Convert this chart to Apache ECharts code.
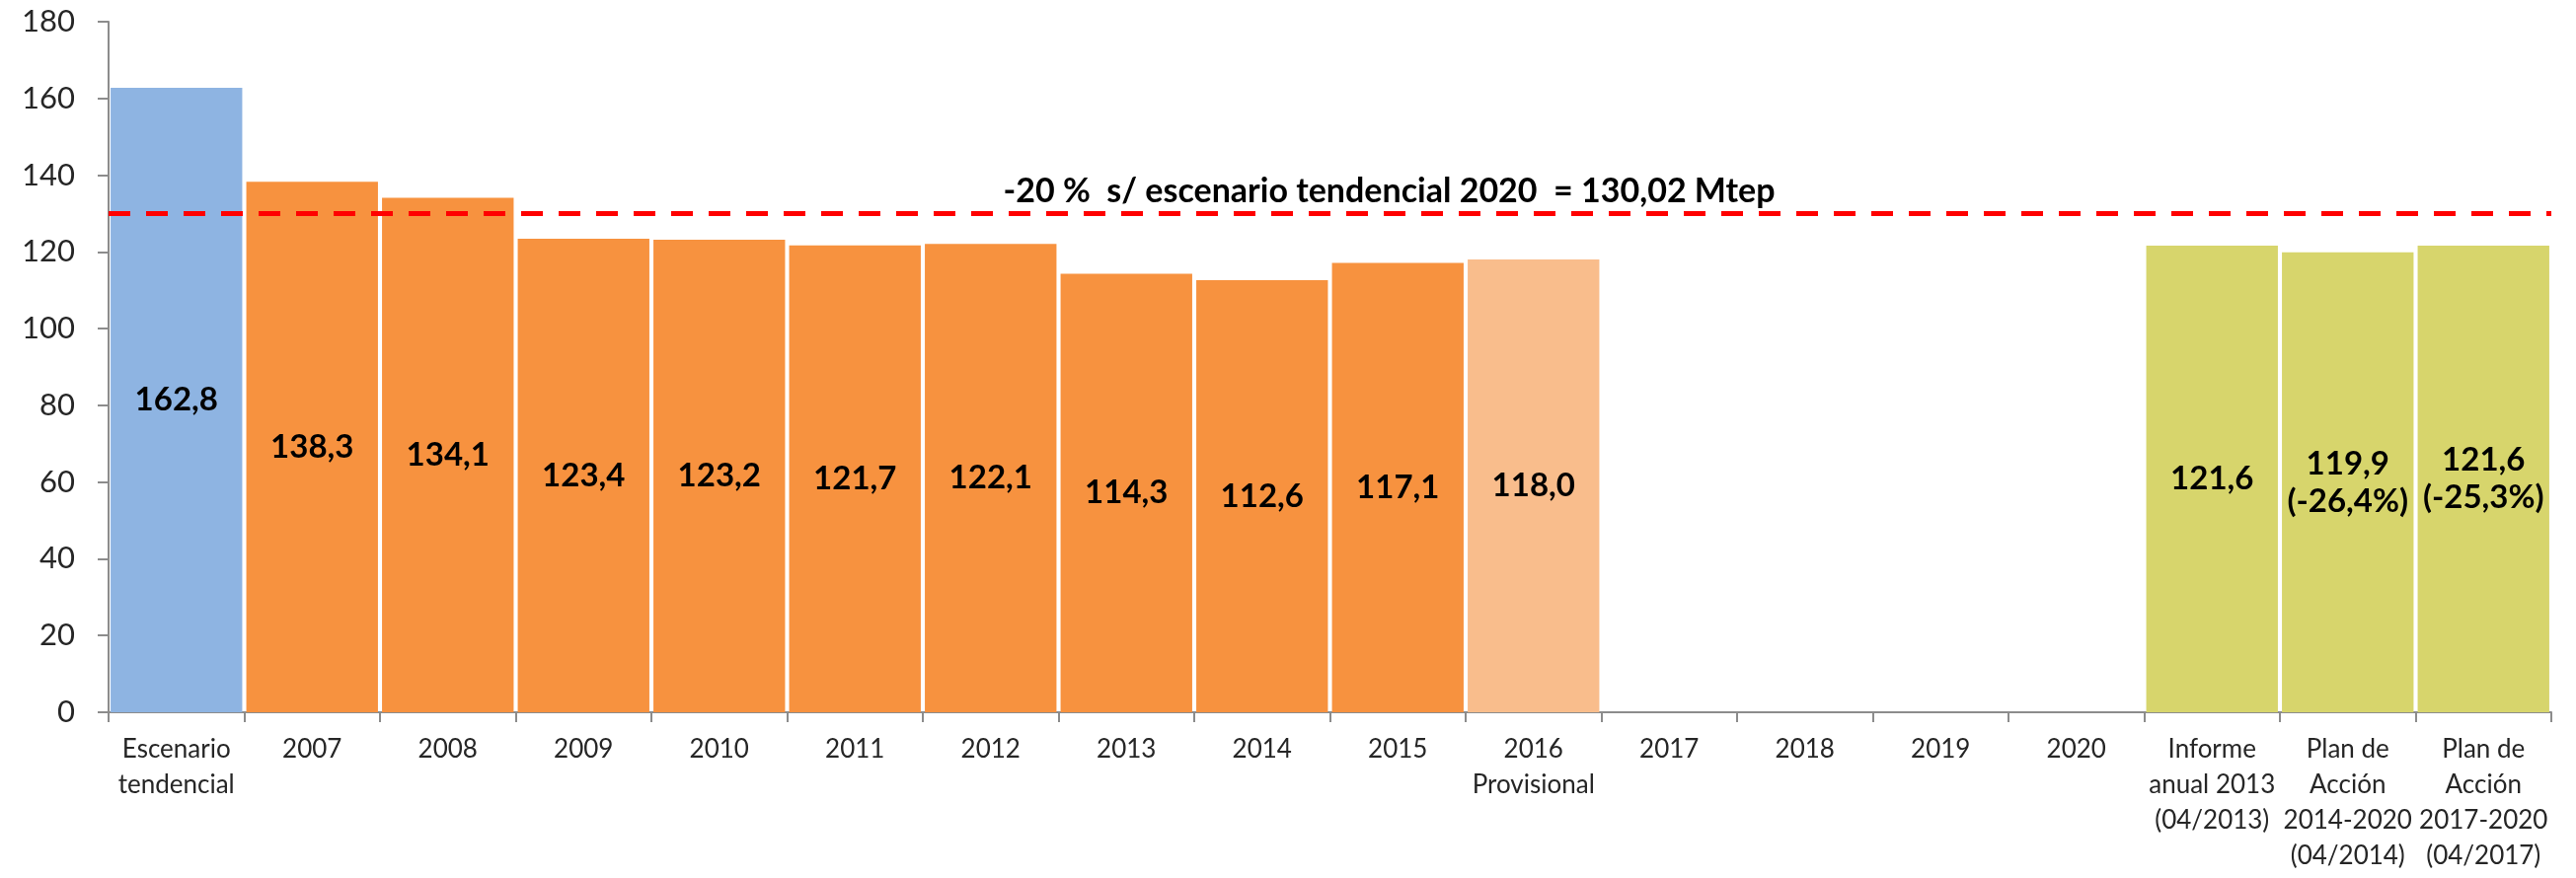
<!DOCTYPE html>
<html>
<head>
<meta charset="utf-8">
<script src="https://cdn.jsdelivr.net/npm/echarts@6/dist/echarts.min.js"></script>
<style>
  html, body { margin: 0; padding: 0; background: #fff; }
  #chart { width: 2610px; height: 890px; }
</style>
</head>
<body>
<div id="chart"></div>
<script>
const categories = [
  'Escenario\ntendencial', '2007', '2008', '2009', '2010', '2011', '2012', '2013',
  '2014', '2015', '2016\nProvisional', '2017', '2018', '2019', '2020',
  'Informe\nanual 2013\n(04/2013)', 'Plan de\nAcción\n2014-2020\n(04/2014)',
  'Plan de\nAcción\n2017-2020\n(04/2017)'
]

// one value per category, null where the series has no bar
const escenario = [162.8, null, null, null, null, null, null, null, null, null, null, null, null, null, null, null, null, null]
const historico = [null, 138.3, 134.1, 123.4, 123.2, 121.7, 122.1, 114.3, 112.6, 117.1, null, null, null, null, null, null, null, null]
const provisional = [null, null, null, null, null, null, null, null, null, null, 118.0, null, null, null, null, null, null, null]
const objetivos = [null, null, null, null, null, null, null, null, null, null, null, null, null, null, null, 121.6, 119.9, 121.6]
const objetivoNotas = ['', '(-26,4%)', '(-25,3%)']

const objetivo2020 = 130.02
const objetivoTexto = '-20 %  s/ escenario tendencial 2020  = 130,02 Mtep'
const yTicks = { min: 0, max: 180, interval: 20 }

const FONT = 'Lato'
const fmt = (v) => v.toFixed(1).replace('.', ',')

const barLabel = {
  show: true,
  position: 'inside',
  color: '#000',
  fontFamily: FONT,
  fontWeight: 'bold',
  fontSize: 33,
  lineHeight: 38,
  formatter: (p) => fmt(p.value),
}

const chart = echarts.init(document.getElementById('chart'))

chart.setOption({
  animation: false,
  grid: { left: 110, right: 25, top: 22, bottom: 168 },
  xAxis: {
    type: 'category',
    data: categories,
    axisLine: { lineStyle: { color: '#8c8c8c', width: 2 } },
    axisTick: { show: true, length: 10, lineStyle: { color: '#8c8c8c', width: 2 } },
    axisLabel: {
      interval: 0,
      margin: 20,
      color: '#262626',
      fontFamily: FONT,
      fontSize: 26,
      lineHeight: 36,
    },
  },
  yAxis: {
    type: 'value',
    min: yTicks.min,
    max: yTicks.max,
    interval: yTicks.interval,
    splitLine: { show: false },
    axisLine: { show: true, lineStyle: { color: '#8c8c8c', width: 2 } },
    axisTick: { show: true, length: 11, lineStyle: { color: '#8c8c8c', width: 2 } },
    axisLabel: {
      margin: 34,
      color: '#262626',
      fontFamily: FONT,
      fontSize: 31,
    },
  },
  series: [
    {
      name: 'Escenario tendencial',
      type: 'bar',
      stack: 'total',
      data: escenario,
      barCategoryGap: '3%',
      itemStyle: { color: '#8EB4E2' },
      label: barLabel,
      markLine: {
        silent: true,
        symbol: 'none',
        lineStyle: { color: '#FF0000', width: 5, type: [22, 16] },
        label: {
          show: true,
          position: 'middle',
          distance: 5,
          color: '#000',
          fontFamily: FONT,
          fontWeight: 'bold',
          fontSize: 34,
          padding: [0, 0, 0, 120],
          formatter: objetivoTexto,
        },
        data: [{ yAxis: objetivo2020 }],
      },
    },
    {
      name: 'Histórico',
      type: 'bar',
      stack: 'total',
      data: historico,
      barCategoryGap: '3%',
      itemStyle: { color: '#F7923F' },
      label: barLabel,
    },
    {
      name: 'Provisional',
      type: 'bar',
      stack: 'total',
      data: provisional,
      barCategoryGap: '3%',
      itemStyle: { color: '#F9BD8C' },
      label: barLabel,
    },
    {
      name: 'Objetivos',
      type: 'bar',
      stack: 'total',
      data: objetivos,
      barCategoryGap: '3%',
      itemStyle: { color: '#D7D56C' },
      label: {
        ...barLabel,
        formatter: (p) => {
          const nota = objetivoNotas[p.dataIndex - 15] || ''
          return nota ? fmt(p.value) + '\n' + nota : fmt(p.value)
        },
      },
    },
  ],
})
</script>
</body>
</html>
